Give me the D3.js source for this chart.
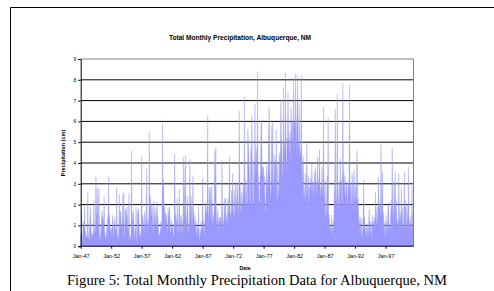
<!DOCTYPE html>
<html>
<head>
<meta charset="utf-8">
<script src="https://cdn.jsdelivr.net/npm/d3@7"></script>
<style>
  body { margin: 0; background: #fff; }
  svg { display: block; }
</style>
</head>
<body>
<svg id="chart" width="494" height="291"></svg>
<script>
// monthly totals (cm), Jan 1947 .. Aug 2001
const precip1940s = [
  0.6,0.3,1.5,0.4,0.2,0.9,1.2,0.8,2.0,0.3,0.7,0.4,
  0.5,0.3,2.6,0.6,0.4,0.2,1.2,1.9,1.1,0.7,0.3,0.6,
  0.4,0.8,2.2,0.9,0.5,1.0,3.35,1.6,1.4,2.75,0.6,1.2
]
const precip1950s = [
  2.8,0.5,0.3,0.4,0.9,1.3,1.7,1.2,1.4,0.6,2.4,0.7,
  0.6,0.4,0.2,0.9,0.3,1.4,1.2,3.35,1.0,1.5,0.5,0.8,
  0.9,0.4,1.1,1.5,0.7,0.3,1.2,1.4,0.6,0.9,0.5,2.85,
  0.3,0.5,0.2,0.9,2.5,0.4,1.6,1.7,0.8,1.1,0.4,2.5,
  0.7,2.6,0.3,0.5,1.8,1.7,1.2,1.9,1.4,0.6,0.8,2.55,
  0.4,0.3,0.5,0.2,4.6,1.3,1.2,1.7,1.6,0.5,0.3,0.9,
  0.5,1.9,0.3,0.2,1.6,1.7,1.8,1.0,0.4,0.6,0.3,0.8,
  4.35,1.3,1.5,1.2,0.8,0.6,1.7,1.4,0.9,1.1,3.75,0.7,
  0.9,1.3,0.6,5.5,1.6,2.4,1.5,1.4,2.0,1.8,0.7,0.5,
  2.15,1.7,0.8,1.2,1.8,0.6,2.15,1.6,1.3,0.9,0.4,0.6
]
const precip1960s = [
  0.5,0.8,1.2,0.6,1.5,5.9,1.7,3.25,1.8,1.9,0.8,1.6,
  1.6,1.4,0.9,0.5,1.8,1.2,1.7,1.9,0.7,0.6,1.3,1.0,
  0.8,1.0,0.5,0.4,1.2,4.45,1.7,1.4,1.3,0.9,2.3,0.6,
  0.7,1.3,2.75,0.9,0.5,1.5,1.4,1.2,0.8,0.6,4.3,1.0,
  1.8,3.6,4.35,1.6,0.9,1.3,2.4,1.7,0.5,0.8,1.2,4.2,
  1.1,2.4,1.9,0.6,1.4,3.4,1.3,1.6,0.9,1.4,0.5,1.2,
  0.4,1.0,0.3,0.9,2.0,0.2,0.4,0.8,0.3,1.2,0.5,0.9,
  3.3,0.6,1.2,0.4,0.8,1.7,2.1,1.5,1.6,2.1,6.3,1.4,
  1.3,2.8,1.5,2.85,1.4,1.1,2.9,1.8,0.9,1.5,1.0,2.2,
  4.6,2.3,4.75,1.4,0.9,1.3,1.8,0.5,1.4,1.2,1.0,1.4
]
const precip1970s = [
  1.4,0.7,4.15,1.9,0.6,1.1,1.4,2.3,1.0,2.3,1.1,1.5,
  0.8,1.5,2.3,1.2,2.5,4.3,1.5,1.6,1.2,2.7,1.5,3.5,
  1.5,1.6,2.7,1.3,1.6,3.1,2.0,1.8,3.0,2.5,1.7,1.2,
  6.5,3.2,2.8,1.6,1.7,2.6,1.8,2.1,3.0,1.9,7.2,2.5,
  1.9,3.2,2.8,1.8,2.2,5.6,4.9,4.1,3.6,1.8,2.2,4.7,
  4.1,6.3,3.2,1.9,2.0,4.1,2.4,6.85,3.0,4.75,4.2,3.1,
  8.4,3.6,3.1,2.0,1.8,3.3,3.5,6.0,6.1,3.3,3.8,3.8,
  3.8,2.2,3.4,1.5,1.7,2.8,3.9,3.2,2.5,3.8,5.7,6.7,
  4.0,3.0,2.1,2.8,5.8,2.6,6.0,3.2,2.4,4.4,2.9,4.1,
  3.5,5.6,2.4,1.8,3.9,2.7,2.3,4.5,3.9,4.5,7.06,5.2
]
const precip1980s = [
  4.6,3.1,3.6,7.64,4.3,4.8,5.1,8.37,4.6,3.2,5.2,4.9,
  7.4,5.3,5.0,4.2,5.5,3.5,6.7,5.5,4.8,6.0,4.3,8.1,
  5.4,6.0,5.5,8.3,4.0,5.8,6.4,8.2,5.1,4.5,6.8,4.2,
  4.6,3.9,8.2,4.6,3.8,2.8,4.3,2.3,2.4,2.8,3.5,2.0,
  2.6,4.95,2.4,2.9,3.4,1.3,2.8,2.7,3.3,2.9,2.4,4.0,
  2.4,3.1,3.0,2.0,3.6,2.2,3.8,3.1,2.9,2.2,4.3,3.0,
  2.9,3.3,4.65,3.0,2.2,2.9,2.7,3.8,2.3,2.8,6.7,1.9,
  2.4,3.2,1.6,1.3,2.0,3.4,2.6,6.2,1.2,1.5,0.9,0.6,
  1.0,0.6,1.5,0.4,0.9,1.2,0.7,2.4,3.0,6.6,2.3,1.8,
  2.8,7.3,2.5,1.4,2.6,3.1,1.5,4.2,2.4,3.2,2.0,1.8
]
const precip1990s = [
  7.83,2.9,3.6,2.2,3.4,1.9,2.8,3.1,2.5,1.7,3.0,2.6,
  3.3,7.75,2.4,3.0,1.8,2.1,3.5,2.9,1.4,2.7,3.7,2.3,
  2.1,2.9,1.9,3.3,4.6,2.0,2.3,1.6,0.5,1.2,1.4,0.8,
  0.4,1.3,0.7,0.3,1.6,3.2,0.9,1.4,0.5,0.8,1.0,0.3,
  0.6,1.1,0.4,1.3,1.8,0.5,0.9,1.2,0.3,0.7,1.5,0.8,
  1.2,0.9,1.4,0.6,2.6,1.3,0.8,1.9,1.1,1.6,3.3,1.8,
  2.0,1.7,1.2,4.9,2.4,1.3,3.6,1.1,1.6,0.4,0.8,1.2,
  0.7,1.5,0.4,0.9,1.2,2.1,1.8,0.5,1.0,0.6,1.3,2.2,
  1.4,4.75,2.1,1.0,1.8,3.1,1.2,3.6,0.9,2.2,1.5,0.8,
  1.2,0.6,3.5,1.9,1.1,1.6,0.8,2.8,1.4,0.5,1.9,1.0
]
const precip2000s = [
  0.8,3.6,1.3,2.2,1.0,0.7,2.0,1.5,1.1,3.8,1.4,0.9,
  1.2,0.6,1.5,0.4,2.9,1.1,0.8,1.6
]

const xTickLabels = ['Jan-47','Jan-52','Jan-57','Jan-62','Jan-67','Jan-72','Jan-77','Jan-82','Jan-87','Jan-92','Jan-97']
const yTicks = [0,1,2,3,4,5,6,7,8,9]

const precip = [].concat(precip1940s, precip1950s, precip1960s, precip1970s, precip1980s, precip1990s, precip2000s)

const svg = d3.select('#chart')

// page frame (top + left edge of the chart object)
svg.append('line').attr('x1', 10.5).attr('x2', 494).attr('y1', 7.5).attr('y2', 7.5)
    .attr('stroke', '#000').attr('stroke-width', 1)
svg.append('line').attr('x1', 10.5).attr('x2', 10.5).attr('y1', 7.5).attr('y2', 291)
    .attr('stroke', '#000').attr('stroke-width', 1)

const plot = { left: 80.7, right: 413.5, top: 59, bottom: 246.2 }

const x = d3.scaleLinear().domain([0, precip.length - 1]).range([plot.left, plot.right])
const y = d3.scaleLinear().domain([0, 9]).range([plot.bottom, plot.top])

// gridlines
svg.selectAll('.grid')
    .data(yTicks.slice(1, -1))
    .enter()
    .append('line')
    .attr('class', 'grid')
    .attr('x1', plot.left).attr('x2', plot.right)
    .attr('y1', d => y(d)).attr('y2', d => y(d))
    .attr('stroke', '#000').attr('stroke-width', 1)

// area
const area = d3.area()
    .x((d, i) => x(i))
    .y0(y(0))
    .y1(d => y(d))

svg.append('path')
    .datum(precip)
    .attr('d', area)
    .attr('fill', '#9999ff')
    .attr('stroke', '#8c8cf5')
    .attr('stroke-width', 0.3)

// plot border top/right
svg.append('path')
    .attr('d', `M${plot.left},${plot.top}H${plot.right}V${plot.bottom}`)
    .attr('fill', 'none').attr('stroke', '#808080').attr('stroke-width', 1)

// y axis
const yAxis = d3.axisLeft(y).tickValues(yTicks).tickSize(2.5).tickPadding(2)
svg.append('g')
    .attr('transform', `translate(${plot.left},0)`)
    .call(yAxis)
    .call(g => g.select('.domain').attr('stroke', '#000'))
    .call(g => g.selectAll('text').attr('font-family', 'Arial, "Liberation Sans", sans-serif').attr('font-size', 4.8).attr('fill', '#000'))

// x axis, tick every 60 months
const xAxis = d3.axisBottom(x)
    .tickValues(xTickLabels.map((d, i) => i * 60))
    .tickFormat((d, i) => xTickLabels[i])
    .tickSize(2.5).tickPadding(5)
svg.append('g')
    .attr('transform', `translate(0,${plot.bottom})`)
    .call(xAxis)
    .call(g => g.select('.domain').attr('stroke', '#000').attr('d', `M${plot.left},0H${plot.right}`))
    .call(g => g.selectAll('text').attr('font-family', 'Arial, "Liberation Sans", sans-serif').attr('font-size', 5.5).attr('fill', '#000'))

// titles
svg.append('text')
    .attr('x', 240).attr('y', 40)
    .attr('text-anchor', 'middle')
    .attr('font-family', 'Arial, "Liberation Sans", sans-serif')
    .attr('font-weight', 'bold').attr('font-size', 6.6)
    .text('Total Monthly Precipitation, Albuquerque, NM')

svg.append('text')
    .attr('x', 245).attr('y', 270)
    .attr('text-anchor', 'middle')
    .attr('font-family', 'Arial, "Liberation Sans", sans-serif')
    .attr('font-weight', 'bold').attr('font-size', 5.2)
    .text('Date')

svg.append('text')
    .attr('transform', 'translate(65,153) rotate(-90)')
    .attr('text-anchor', 'middle')
    .attr('font-family', 'Arial, "Liberation Sans", sans-serif')
    .attr('font-weight', 'bold').attr('font-size', 5.5)
    .text('Precipitation (cm)')

svg.append('text')
    .attr('x', 257).attr('y', 284.5)
    .attr('text-anchor', 'middle')
    .attr('font-family', '"Times New Roman", "Liberation Serif", serif')
    .attr('font-size', 14.6)
    .text('Figure 5: Total Monthly Precipitation Data for Albuquerque, NM')
</script>
</body>
</html>
